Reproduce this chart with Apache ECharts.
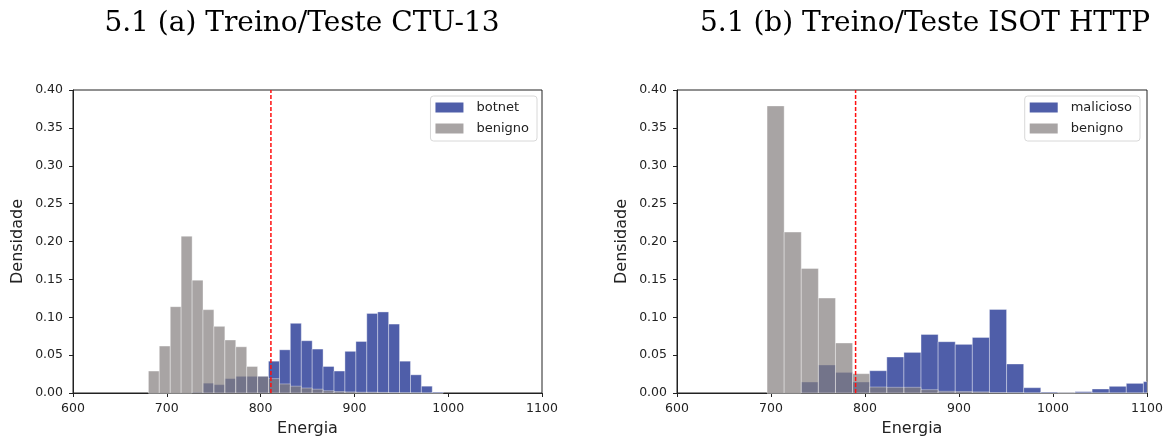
<!DOCTYPE html>
<html>
<head>
<meta charset="utf-8">
<script src="https://cdn.jsdelivr.net/npm/echarts@6/dist/echarts.min.js"></script>
<style>
  html, body { margin: 0; padding: 0; background: #fff; }
  #chart { width: 1168px; height: 445px; }
</style>
</head>
<body>
<div id="chart"></div>
<script>
// 5.1 (a) CTU-13 : bin edges + densities
var ctuEdges = [680.4, 692.0, 703.7, 715.3, 727.0, 738.6, 750.2, 761.9, 773.5, 785.2, 796.8,
  808.4, 820.1, 831.7, 843.4, 855.0, 866.6, 878.3, 889.9, 901.6, 913.2, 924.8, 936.5,
  948.1, 959.8, 971.4, 983.0, 994.7]
var ctuBotnet = [0, 0, 0, 0, 0.001, 0.013, 0.011, 0.019, 0.022, 0.022, 0.022, 0.042, 0.057,
  0.092, 0.069, 0.058, 0.035, 0.029, 0.055, 0.068, 0.105, 0.107, 0.091, 0.042, 0.024, 0.009, 0.0013]
var ctuBenigno = [0.029, 0.062, 0.114, 0.207, 0.149, 0.110, 0.088, 0.070, 0.061, 0.035, 0.022,
  0.019, 0.012, 0.009, 0.0066, 0.005, 0.003, 0.002, 0.0015, 0.001, 0.001, 0.0008, 0.0005,
  0.0003, 0.0002, 0, 0]
var ctuThreshold = 811

// 5.1 (b) ISOT HTTP
var isotEdges = [695.8, 714.0, 732.2, 750.4, 768.6, 786.8, 805.0, 823.2, 841.4, 859.6, 877.8,
  896.0, 914.2, 932.4, 950.6, 968.8, 987.0, 1005.2, 1023.4, 1041.6, 1059.8, 1078.0, 1096.2, 1114.4]
var isotMalicioso = [0, 0, 0.0145, 0.037, 0.0272, 0.0145, 0.0294, 0.0475, 0.0536, 0.0773,
  0.0677, 0.0642, 0.0734, 0.1103, 0.0383, 0.007, 0.0013, 0.0003, 0.0018, 0.0053, 0.0088, 0.0127, 0.015]
var isotBenigno = [0.379, 0.2124, 0.1644, 0.1253, 0.066, 0.0255, 0.0079, 0.0075, 0.0075, 0.0044,
  0.0022, 0.002, 0.0015, 0.0005, 0.0003, 0, 0, 0, 0, 0, 0, 0, 0]
var isotThreshold = 790

var titles = ['5.1 (a) Treino/Teste CTU-13', '5.1 (b) Treino/Teste ISOT HTTP']

var BLUE = 'rgba(20,40,140,0.75)'
var GRAY = 'rgba(131,126,126,0.7)'
var RED = '#ff1010'

function bins(edges, vals) {
  return vals.map(function (v, i) { return [edges[i], edges[i + 1], v] })
}

function renderHist(params, api) {
  var p0 = api.coord([api.value(0), 0])
  var p1 = api.coord([api.value(1), api.value(2)])
  var cs = params.coordSys
  var rect = echarts.graphic.clipRectByRect(
    { x: p0[0], y: p1[1], width: p1[0] - p0[0], height: p0[1] - p1[1] },
    { x: cs.x, y: cs.y, width: cs.width, height: cs.height })
  if (!rect) return
  return {
    type: 'rect',
    shape: rect,
    style: { fill: api.visual('color'), stroke: 'rgba(255,255,255,0.45)', lineWidth: 0.8 }
  }
}

// vertical dashed threshold
function renderThreshold(params, api) {
  var p0 = api.coord([api.value(0), 0])
  var p1 = api.coord([api.value(0), 0.4])
  return {
    type: 'line',
    shape: { x1: p0[0], y1: p0[1], x2: p0[0], y2: p1[1] },
    style: { stroke: RED, lineWidth: 1.5, lineDash: [4, 2] }
  }
}

function histSeries(name, idx, edges, vals, color) {
  return {
    name: name,
    type: 'custom',
    xAxisIndex: idx,
    yAxisIndex: idx,
    renderItem: renderHist,
    itemStyle: { color: color },
    encode: { x: [0, 1], y: 2 },
    data: bins(edges, vals),
    silent: true
  }
}

function threshSeries(idx, x) {
  return {
    type: 'custom',
    xAxisIndex: idx,
    yAxisIndex: idx,
    renderItem: renderThreshold,
    encode: { x: 0 },
    data: [[x]],
    silent: true,
    z: 10
  }
}

var tickFont = { fontFamily: 'DejaVu Sans', fontSize: 12.5, color: '#222' }
var nameFont = { fontFamily: 'DejaVu Sans', fontSize: 16, color: '#222' }

function xAxis(idx) {
  return {
    type: 'value', gridIndex: idx, min: 600, max: 1100, interval: 100,
    name: 'Energia', nameLocation: 'middle', nameGap: 28, nameTextStyle: nameFont,
    axisLine: { lineStyle: { color: '#222', width: 1 } },
    axisTick: { length: 4, lineStyle: { color: '#222' } },
    axisLabel: Object.assign({ margin: 9, formatter: function (v) { return String(v) } }, tickFont),
    splitLine: { show: false }
  }
}

function yAxis(idx) {
  return {
    type: 'value', gridIndex: idx, min: 0, max: 0.4, interval: 0.05,
    name: 'Densidade', nameLocation: 'middle', nameGap: 47, nameRotate: 90, nameTextStyle: nameFont,
    axisLine: { show: true, lineStyle: { color: '#222', width: 1 } },
    axisTick: { show: true, length: 4, lineStyle: { color: '#222' } },
    axisLabel: Object.assign({ margin: 10, formatter: function (v) { return v.toFixed(2) } }, tickFont),
    splitLine: { show: false }
  }
}

function legend(names, right) {
  return {
    data: names,
    orient: 'vertical',
    right: right,
    top: 96,
    itemWidth: 28,
    itemHeight: 10,
    itemGap: 8,
    padding: [5, 8, 6, 5],
    backgroundColor: '#fff',
    borderColor: '#d8d8d8',
    borderWidth: 1,
    borderRadius: 3,
    icon: 'rect',
    textStyle: { fontFamily: 'DejaVu Sans', fontSize: 13, color: '#222', padding: [0, 0, 0, 8] }
  }
}

var titleFont = { fontFamily: 'DejaVu Serif', fontSize: 28, fontWeight: 'normal', color: '#000' }

var chart = echarts.init(document.getElementById('chart'))
chart.setOption({
  animation: false,
  title: [
    { text: titles[0], left: 297, top: 5, textAlign: 'center', textStyle: titleFont },
    { text: titles[1], left: 920, top: 5, textAlign: 'center', textStyle: titleFont }
  ],
  legend: [
    legend(['botnet', 'benigno'], 631),
    legend(['malicioso', 'benigno'], 28)
  ],
  grid: [
    { left: 73, top: 90, width: 469, height: 303, show: true, borderColor: '#222', borderWidth: 1 },
    { left: 677, top: 90, width: 470, height: 303, show: true, borderColor: '#222', borderWidth: 1 }
  ],
  xAxis: [xAxis(0), xAxis(1)],
  yAxis: [yAxis(0), yAxis(1)],
  series: [
    histSeries('botnet', 0, ctuEdges, ctuBotnet, BLUE),
    histSeries('benigno', 0, ctuEdges, ctuBenigno, GRAY),
    threshSeries(0, ctuThreshold),
    histSeries('malicioso', 1, isotEdges, isotMalicioso, BLUE),
    histSeries('benigno', 1, isotEdges, isotBenigno, GRAY),
    threshSeries(1, isotThreshold)
  ]
})
</script>
</body>
</html>
